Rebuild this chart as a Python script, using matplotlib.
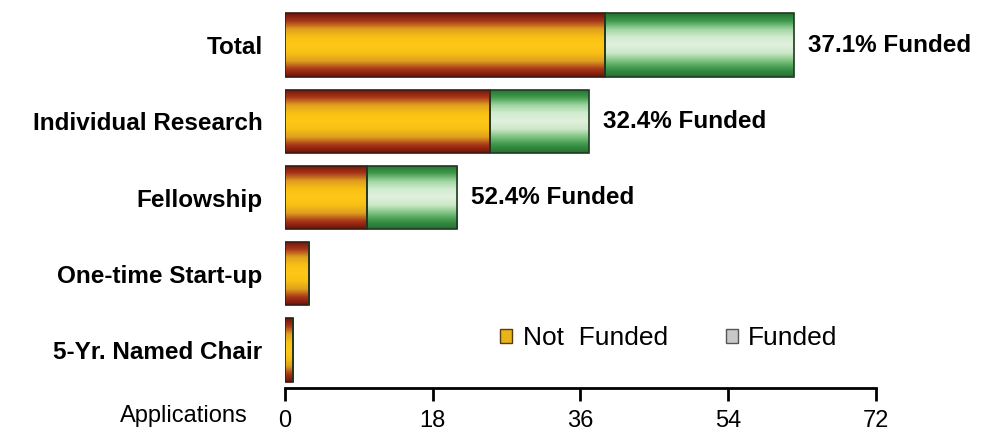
import numpy as np
import matplotlib.pyplot as plt
from matplotlib.colors import LinearSegmentedColormap
from matplotlib.patches import Patch

categories = ["Total", "Individual Research", "Fellowship", "One-time Start-up", "5-Yr. Named Chair"]
not_funded = [39, 25, 10, 3, 1]
funded = [23, 12, 11, 0, 0]
pct_labels = ["37.1% Funded", "32.4% Funded", "52.4% Funded", "", ""]
ticks = [0, 18, 36, 54, 72]

plt.rcParams["font.family"] = ["Liberation Sans", "DejaVu Sans"]

red_cmap = LinearSegmentedColormap.from_list(
    "nf", ["#6e1208", "#a8361a", "#e0a020", "#f8c014", "#ffc818", "#f8c014", "#e0a020", "#a8361a", "#6e1208"])
green_cmap = LinearSegmentedColormap.from_list(
    "f", ["#246e30", "#3f9a4c", "#9fd4a0", "#d2ecd0", "#e0f0dc", "#cde8c8", "#7cc27f", "#3a9446", "#246e30"])
grad = np.linspace(0, 1, 256).reshape(-1, 1)

fig = plt.figure(figsize=(9.82, 4.36), dpi=100)
ax = fig.add_axes([0.290, 0.110, 0.602, 0.874])

y = np.arange(len(categories))[::-1]
h = 0.83


def shade(bars, cmap):
    for b in bars:
        if b.get_width() <= 0:
            continue
        x0, y0 = b.get_x(), b.get_y()
        im = ax.imshow(grad, cmap=cmap, aspect="auto", interpolation="bicubic",
                       extent=[x0, x0 + b.get_width(), y0, y0 + b.get_height()], zorder=1)
        im.set_clip_path(b)


b1 = ax.barh(y, not_funded, height=h, facecolor="none", edgecolor="#3a1a10", linewidth=1.2, zorder=2)
b2 = ax.barh(y, funded, left=not_funded, height=h, facecolor="none", edgecolor="#1e3a22", linewidth=1.2, zorder=2)
shade(b1, red_cmap)
shade(b2, green_cmap)

for yi, nf, f, lab in zip(y, not_funded, funded, pct_labels):
    if lab:
        ax.text(nf + f + 1.7, yi, lab, va="center", ha="left", fontsize=17.5, fontweight="bold")

ax.set_xlim(0, 72)
ax.set_ylim(-0.5, 4.5)
ax.set_aspect("auto")
ax.set_yticks(y)
ax.set_yticklabels(categories, fontsize=17.5, fontweight="bold")
ax.tick_params(axis="y", length=0, pad=16)
ax.set_xticks(ticks)
ax.set_xticklabels([str(t) for t in ticks], fontsize=17)
ax.tick_params(axis="x", length=9, width=2, direction="out", pad=7)
for s in ["top", "right", "left"]:
    ax.spines[s].set_visible(False)
ax.spines["bottom"].set_linewidth(2)

fig.text(248 / 982, 1 - 416 / 436, "Applications", ha="right", va="center", fontsize=17)

handles = [Patch(facecolor="#e8b418", edgecolor="#5a3a10"),
           Patch(facecolor="#c8c8c8", edgecolor="#555555")]
ax.legend(handles, ["Not  Funded", "Funded"], loc="center", bbox_to_anchor=(0.65, 0.131),
          ncol=2, frameon=False, fontsize=19, handlelength=0.45, handleheight=0.45,
          handletextpad=0.4, columnspacing=2.2)

fig.savefig("out.png", dpi=100)
